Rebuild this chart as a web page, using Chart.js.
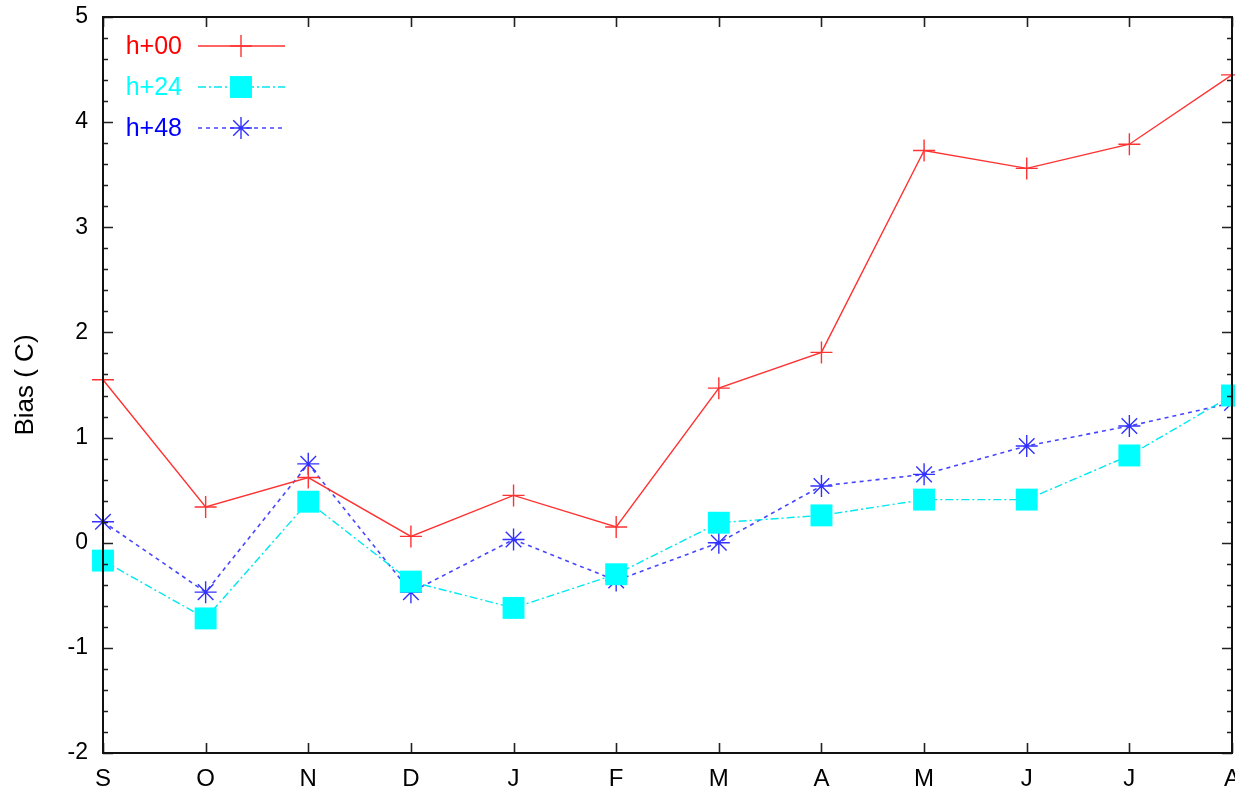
<!DOCTYPE html>
<html>
<head>
<meta charset="utf-8">
<script src="https://cdn.jsdelivr.net/npm/chart.js@4/dist/chart.umd.min.js"></script>
<style>
  html, body { margin: 0; padding: 0; background: #fff; overflow: hidden; }
  #wrap { width: 1235px; height: 793px; }
</style>
</head>
<body>
<div id="wrap"><canvas id="c" width="1235" height="793"></canvas></div>
<script>
// Monthly forecast bias, September to August
const months = ['S', 'O', 'N', 'D', 'J', 'F', 'M', 'A', 'M', 'J', 'J', 'A'];
const biasH00 = [1.55, 0.34, 0.62, 0.06, 0.45, 0.15, 1.47, 1.81, 3.73, 3.56, 3.79, 4.45];
const biasH24 = [-0.17, -0.72, 0.39, -0.37, -0.62, -0.30, 0.19, 0.26, 0.41, 0.41, 0.83, 1.40];
const biasH48 = [0.20, -0.47, 0.75, -0.47, 0.03, -0.36, 0.00, 0.54, 0.65, 0.92, 1.11, 1.33];
const yTickValues = [-2, -1, 0, 1, 2, 3, 4, 5];

const FONT = 'Liberation Sans, Arial, Helvetica, sans-serif';

// Frame with inward ticks on all four sides, plus a key drawn in the upper left
const framePlugin = {
  id: 'frame',
  afterDraw(chart) {
    const { ctx, chartArea: a, scales } = chart;
    const x = scales.x, y = scales.y;
    ctx.save();
    ctx.strokeStyle = '#222';
    ctx.lineWidth = 1.6;
    ctx.beginPath();
    // y ticks: majors every 1, minors every 0.2
    for (let i = 0; i <= 35; i++) {
      const v = -2 + i * 0.2;
      const py = Math.round(y.getPixelForValue(v)) + 0.5;
      const len = (i % 5 === 0) ? 10 : 5;
      ctx.moveTo(a.left, py); ctx.lineTo(a.left + len, py);
      ctx.moveTo(a.right, py); ctx.lineTo(a.right - len, py);
    }
    // x ticks at each month
    months.forEach((m, i) => {
      const px = Math.round(x.getPixelForValue(i)) + 0.5;
      ctx.moveTo(px, a.bottom); ctx.lineTo(px, a.bottom - 10);
      ctx.moveTo(px, a.top); ctx.lineTo(px, a.top + 10);
    });
    ctx.stroke();
    ctx.lineWidth = 2;
    ctx.strokeStyle = '#111';
    ctx.strokeRect(a.left, a.top, a.right - a.left, a.bottom - a.top);

    // key
    const rows = [46, 87, 128];
    chart.data.datasets.forEach((ds, i) => {
      const ry = rows[i];
      ctx.font = '25px ' + FONT;
      ctx.fillStyle = ds.keyColor;
      ctx.textAlign = 'right';
      ctx.textBaseline = 'middle';
      ctx.fillText(ds.label, 182, ry + 1);
      ctx.save();
      ctx.strokeStyle = ds.borderColor;
      ctx.lineWidth = ds.borderWidth;
      ctx.setLineDash(ds.borderDash || []);
      ctx.beginPath();
      ctx.moveTo(198, ry); ctx.lineTo(285, ry);
      ctx.stroke();
      ctx.setLineDash([]);
      ctx.fillStyle = ds.pointBackgroundColor;
      ctx.strokeStyle = ds.pointBorderColor;
      ctx.lineWidth = ds.pointBorderWidth;
      Chart.helpers.drawPoint(ctx, {
        pointStyle: ds.pointStyle, radius: ds.pointRadius, rotation: 0, borderWidth: ds.pointBorderWidth
      }, 241, ry);
      ctx.restore();
    });
    ctx.restore();
  }
};

// Keep the plot box fixed: no extra room reserved for edge labels
function noEdgePadding(s) {
  s.paddingLeft = 0; s.paddingRight = 0; s.paddingTop = 0; s.paddingBottom = 0;
}

new Chart(document.getElementById('c'), {
  type: 'line',
  data: {
    labels: months,
    datasets: [
      {
        label: 'h+00', data: biasH00, keyColor: '#ff0000',
        borderColor: 'rgb(255,50,50)', borderWidth: 1.4,
        pointStyle: 'cross', pointRadius: 11, pointBorderWidth: 1.4,
        pointBorderColor: 'rgb(255,50,50)', pointBackgroundColor: 'rgb(255,50,50)',
        clip: false, tension: 0
      },
      {
        label: 'h+24', data: biasH24, keyColor: '#00ffff',
        borderColor: '#00e8f0', borderWidth: 1.4, borderDash: [8, 3, 2, 3],
        pointStyle: 'rect', pointRadius: 15.5, pointBorderWidth: 0,
        pointBorderColor: '#00ffff', pointBackgroundColor: '#00ffff',
        clip: false, tension: 0
      },
      {
        label: 'h+48', data: biasH48, keyColor: '#0000ff',
        borderColor: 'rgb(70,70,255)', borderWidth: 1.6, borderDash: [4, 4],
        pointStyle: 'star', pointRadius: 11, pointBorderWidth: 1.4,
        pointBorderColor: 'rgb(50,50,255)', pointBackgroundColor: 'rgb(50,50,255)',
        clip: false, tension: 0
      }
    ]
  },
  options: {
    responsive: false,
    animation: false,
    events: [],
    layout: { autoPadding: false, padding: { left: 0, top: 17, right: 3, bottom: 0 } },
    plugins: { legend: { display: false }, tooltip: { enabled: false } },
    scales: {
      x: {
        type: 'category',
        offset: false,
        grid: { display: false, drawTicks: false },
        border: { display: false },
        ticks: { color: '#000', font: { family: FONT, size: 24 }, padding: 12, maxRotation: 0, autoSkip: false },
        afterFit(s) { s.height = 40; noEdgePadding(s); }
      },
      y: {
        min: -2, max: 5,
        afterBuildTicks(s) { s.ticks = yTickValues.map(v => ({ value: v })); },
        grid: { display: false, drawTicks: false },
        border: { display: false },
        ticks: { color: '#000', font: { family: FONT, size: 23 }, padding: 15 },
        title: { display: true, text: 'Bias ( C)', color: '#000', font: { family: FONT, size: 26 }, padding: { top: 10, bottom: 0 } },
        afterFit(s) { s.width = 103; noEdgePadding(s); }
      }
    }
  },
  plugins: [framePlugin]
});
</script>
</body>
</html>
